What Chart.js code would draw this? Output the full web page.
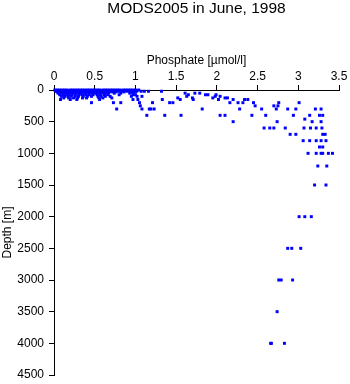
<!DOCTYPE html>
<html>
<head>
<meta charset="utf-8">
<title>MODS2005 in June, 1998</title>
<script src="https://cdn.jsdelivr.net/npm/chart.js@4"></script>
<style>
  html, body { margin: 0; padding: 0; background: #fff; }
</style>
</head>
<body>
<canvas id="phosphate-chart" width="350" height="384"></canvas>
<script>
const chartTitle = "MODS2005 in June, 1998";
const xTitle = "Phosphate [µmol/l]";
const yTitle = "Depth [m]";

const xTicks = [0, 0.5, 1, 1.5, 2, 2.5, 3, 3.5];
const yTicks = [0, 500, 1000, 1500, 2000, 2500, 3000, 3500, 4000, 4500];

// sampling depths [m]
const depthLevels = [0, 10, 20, 30, 50, 75, 100, 125, 150, 200, 250, 300, 400, 460, 500,
  600, 700, 800, 900, 1000, 1200, 1500, 2000, 2500, 3000, 3500, 4000];

// phosphate readings [µmol/l], one list per depth level
const phosphateAtLevel = [
  [0.01, 0.04, 0.07, 0.1, 0.13, 0.16, 0.2, 0.23, 0.26, 0.29, 0.32, 0.35, 0.38, 0.41, 0.44, 0.47,
   0.5, 0.53, 0.56, 0.6, 0.63, 0.66, 0.69, 0.72, 0.75, 0.78, 0.81, 0.85, 0.88, 0.91, 0.94, 0.97, 1.0, 1.04],
  [0.02, 0.06, 0.09, 0.12, 0.15, 0.18, 0.21, 0.25, 0.28, 0.31, 0.34, 0.37, 0.4, 0.44, 0.48, 0.51,
   0.54, 0.58, 0.62, 0.65, 0.68, 0.71, 0.74, 0.77, 0.8, 0.84, 0.87, 0.93, 0.99, 1.02],
  [0.03, 0.05, 0.08, 0.11, 0.14, 0.17, 0.2, 0.24, 0.27, 0.3, 0.33, 0.36, 0.39, 0.42, 0.45, 0.49,
   0.52, 0.55, 0.59, 0.63, 0.67, 0.7, 0.73, 0.79, 0.83, 0.9, 0.96, 1.01, 1.07, 1.11, 1.16, 1.32],
  [0.04, 0.07, 0.1, 0.14, 0.17, 0.21, 0.24, 0.27, 0.31, 0.34, 0.37, 0.41, 0.44, 0.47, 0.5, 0.53,
   0.57, 0.6, 0.64, 0.68, 0.72, 0.76, 0.86, 0.95, 1.0],
  [0.05, 0.09, 0.12, 0.16, 0.19, 0.23, 0.27, 0.3, 0.33, 0.38, 0.42, 0.45, 0.49, 0.52, 0.56, 0.6,
   0.63, 0.67, 0.74, 0.82, 0.93, 0.97, 1.61, 1.73, 1.79],
  [0.07, 0.11, 0.14, 0.18, 0.22, 0.26, 0.31, 0.35, 0.39, 0.43, 0.48, 0.53, 0.57, 0.62, 0.66, 0.8,
   0.97, 1.0, 1.65, 1.86, 1.89, 1.99],
  [0.09, 0.13, 0.17, 0.21, 0.26, 0.3, 0.36, 0.41, 0.46, 0.54, 0.58, 0.63, 0.69, 0.95, 1.02, 1.08,
   1.63, 1.98, 2.04],
  [0.12, 0.18, 0.24, 0.29, 0.35, 0.4, 0.55, 0.6, 0.71, 1.52, 1.7, 1.95, 2.1, 2.13],
  [0.08, 0.2, 0.28, 0.56, 0.97, 1.03, 1.33, 1.55, 1.71, 2.02, 2.2, 2.34, 2.38],
  [0.46, 0.73, 0.82, 1.05, 1.21, 1.42, 1.46, 2.16, 2.26, 2.32, 2.45, 2.76, 3.01],
  [1.06, 2.47, 2.7, 2.75],
  [0.77, 1.08, 1.17, 1.19, 1.23, 1.82, 2.28, 2.55, 2.73, 2.87, 2.97, 3.21, 3.28],
  [1.14, 1.36, 1.56, 2.04, 2.1, 2.43, 2.6, 2.94, 3.14, 3.26, 3.3],
  [3.08],
  [2.2, 2.74, 3.17, 3.28],
  [2.58, 2.65, 2.7, 2.84, 3.07, 3.15, 3.22, 3.29],
  [2.9, 2.97, 3.3, 3.33],
  [3.06, 3.14, 3.22, 3.28, 3.34],
  [3.26, 3.3],
  [3.12, 3.22, 3.28, 3.3, 3.37, 3.42],
  [3.24, 3.35],
  [3.2, 3.34],
  [3.01, 3.08, 3.16],
  [2.87, 2.92, 3.03],
  [2.76, 2.79, 2.93],
  [2.74],
  [2.66, 2.67, 2.83],
];

const FONT = "'Liberation Sans', Arial, Helvetica, sans-serif";

const points = [];
depthLevels.forEach((d, i) => {
  phosphateAtLevel[i].forEach((p) => points.push({ x: p, y: d }));
});

// title centred over the plot area, not the whole canvas
const plotTitle = {
  id: "plotTitle",
  afterDraw(chart) {
    const { ctx, chartArea } = chart;
    ctx.save();
    ctx.font = "15.5px " + FONT;
    ctx.fillStyle = "#000";
    ctx.textAlign = "center";
    ctx.textBaseline = "middle";
    ctx.fillText(chartTitle, (chartArea.left + chartArea.right) / 2, 8.5);
    ctx.restore();
  },
};

const axisStyle = {
  border: { display: true, color: "#000", width: 1 },
  grid: { display: true, drawOnChartArea: false, drawTicks: true, tickLength: 5, color: "#000" },
};

// fixed box sizes so the plot area lands where the original has it
const fixPadding = (s) => {
  s.paddingTop = 0;
  s.paddingBottom = 0;
  s.paddingLeft = 0;
  s.paddingRight = 0;
};

new Chart(document.getElementById("phosphate-chart").getContext("2d"), {
  type: "scatter",
  data: {
    datasets: [
      {
        data: points,
        backgroundColor: "#0000ff",
        pointStyle: "rect",
        pointRadius: 2.1,
        pointBorderWidth: 0,
        pointHoverRadius: 2.1,
        clip: false,
      },
    ],
  },
  options: {
    responsive: false,
    animation: false,
    devicePixelRatio: 1,
    layout: { padding: { top: 19, left: 0, right: 11, bottom: 9 } },
    plugins: {
      legend: { display: false },
      tooltip: { enabled: false },
      title: { display: false },
    },
    scales: {
      x: {
        type: "linear",
        position: "top",
        min: xTicks[0],
        max: xTicks[xTicks.length - 1],
        ...axisStyle,
        afterBuildTicks: (s) => { s.ticks = xTicks.map((v) => ({ value: v })); },
        afterFit: (s) => { s.height = 71; fixPadding(s); },
        ticks: {
          color: "#000",
          padding: 1,
          maxRotation: 0,
          font: { family: FONT, size: 12 },
          callback: (v) => String(v),
        },
        title: {
          display: true,
          text: xTitle,
          color: "#000",
          font: { family: FONT, size: 12 },
          padding: { top: 34, bottom: 0 },
        },
      },
      y: {
        type: "linear",
        reverse: true,
        min: yTicks[0],
        max: yTicks[yTicks.length - 1],
        ...axisStyle,
        afterBuildTicks: (s) => { s.ticks = yTicks.map((v) => ({ value: v })); },
        afterFit: (s) => { s.width = 54; fixPadding(s); },
        ticks: {
          color: "#000",
          padding: 5,
          font: { family: FONT, size: 12 },
          callback: (v) => String(v),
        },
        title: {
          display: true,
          text: yTitle,
          color: "#000",
          font: { family: FONT, size: 12 },
          padding: { top: 0, bottom: 0 },
        },
      },
    },
  },
  plugins: [plotTitle],
});
</script>
</body>
</html>
